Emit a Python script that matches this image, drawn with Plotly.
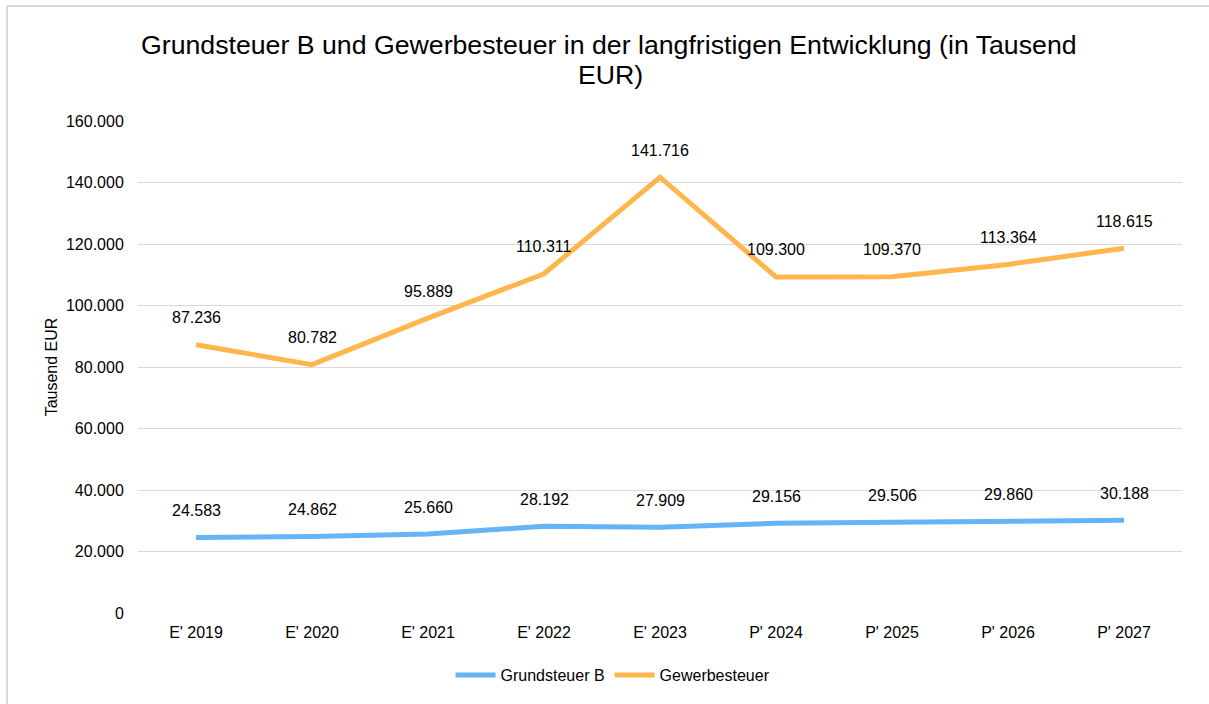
import plotly.graph_objects as go

categories = ["E' 2019", "E' 2020", "E' 2021", "E' 2022", "E' 2023", "P' 2024", "P' 2025", "P' 2026", "P' 2027"]
grundsteuer_b = [24583, 24862, 25660, 28192, 27909, 29156, 29506, 29860, 30188]
gewerbesteuer = [87236, 80782, 95889, 110311, 141716, 109300, 109370, 113364, 118615]
title_lines = ["Grundsteuer B und Gewerbesteuer in der langfristigen Entwicklung (in Tausend", "EUR)"]

BLUE = "#64B4F6"
ORANGE = "#FFB74D"
FONT = "Liberation Sans, Arial, sans-serif"

def de(v):
    return f"{v:,}".replace(",", ".")

fig = go.Figure()
fig.add_trace(go.Scatter(x=categories, y=grundsteuer_b, mode="lines", name="Grundsteuer B",
                         line=dict(color=BLUE, width=5)))
fig.add_trace(go.Scatter(x=categories, y=gewerbesteuer, mode="lines", name="Gewerbesteuer",
                         line=dict(color=ORANGE, width=5)))

L, R, T, B = 138, 27, 121, 91
W, H = 1209, 704
pw, ph = W - L - R, H - T - B
def px(x):
    return (x - L) / pw
def py(y):
    return (H - B - y) / ph

annotations = []
for series in (grundsteuer_b, gewerbesteuer):
    for c, v in zip(categories, series):
        annotations.append(dict(x=c, y=v, text=de(v), showarrow=False, yshift=27,
                                font=dict(size=16, color="#000000", family=FONT)))

for text, cx, cy in zip(title_lines, (609, 610), (45, 75)):
    annotations.append(dict(xref="paper", yref="paper", x=px(cx), y=py(cy), text=text,
                            showarrow=False, xanchor="center", yanchor="middle",
                            font=dict(size=26.7, family=FONT, color="#000000")))

shapes = [
    dict(type="line", xref="paper", yref="paper", x0=px(7), x1=px(7), y0=py(6), y1=py(720),
         line=dict(color="#d9d9d9", width=2)),
    dict(type="line", xref="paper", yref="paper", x0=px(7), x1=px(1230), y0=py(6), y1=py(6),
         line=dict(color="#d9d9d9", width=2)),
]

fig.update_layout(
    width=W, height=H,
    margin=dict(l=L, r=R, t=T, b=B),
    paper_bgcolor="white", plot_bgcolor="white",
    separators=",.",
    font=dict(family=FONT, color="#000000", size=16),
    xaxis=dict(range=[-0.5, 8.5], showgrid=False, showline=False,
               ticks="outside", ticklen=5, tickcolor="rgba(0,0,0,0)",
               tickfont=dict(size=16, family=FONT)),
    yaxis=dict(range=[0, 160000], dtick=20000, tickformat=",d", showgrid=True,
               gridcolor="#d9d9d9", gridwidth=1, zeroline=False, showline=False,
               ticks="outside", ticklen=10, tickcolor="rgba(0,0,0,0)",
               tickfont=dict(size=16, family=FONT),
               title=dict(text="Tausend EUR", font=dict(size=16, family=FONT), standoff=4)),
    legend=dict(orientation="h", x=0.455, xanchor="center", y=-0.126, yanchor="middle",
                font=dict(size=16, family=FONT), itemwidth=40),
    annotations=annotations,
    shapes=shapes,
)

fig.write_html("out.html", config={"displayModeBar": False},
               post_script="document.body.style.margin='0';")
